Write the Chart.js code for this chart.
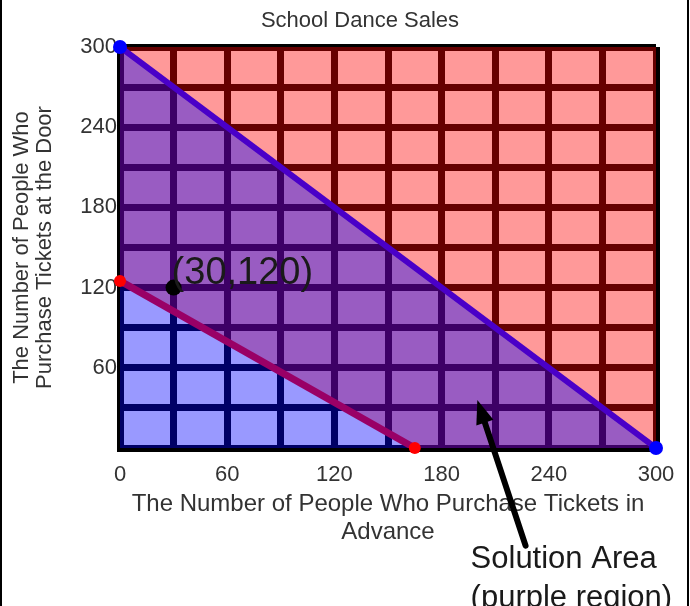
<!DOCTYPE html>
<html>
<head>
<meta charset="utf-8">
<title>School Dance Sales</title>
<script src="https://cdn.jsdelivr.net/npm/chart.js@4.4.1/dist/chart.umd.min.js"></script>
<style>
    html, body { margin: 0; padding: 0; background: #ffffff; }
    #wrap { width: 690px; height: 606px; }
</style>
</head>
<body>
<div id="wrap"><canvas id="mainChart" width="690" height="606"></canvas></div>
<script>
// Tick labels shown on the axes (grid every 30)
const xTickLabels = [0, 60, 120, 180, 240, 300];
const yTickLabels = [60, 120, 180, 240, 300];

// Blue boundary: x + y = 300
const doorLineX = [0, 300];
const doorLineY = [300, 0];

// Red boundary
const advanceLineX = [0, 165];
const advanceLineY = [125, 0];

// Marked solution point
const sampleX = [30];
const sampleY = [120];

// Arrow pointing into the solution area (tail, tip)
const arrowX = [227, 200];
const arrowY = [-73, 36];

const FONT = '"Liberation Sans", Arial, sans-serif';

function toPoints(xs, ys) {
    return xs.map((x, i) => ({ x: x, y: ys[i] }));
}

// Title and frame lines at the left and right edge of the picture
const framePlugin = {
    id: 'frame',
    afterDraw(chart) {
        const ctx = chart.ctx;
        ctx.save();
        ctx.fillStyle = '#000';
        ctx.fillRect(0, 0, 2, chart.height);
        ctx.fillRect(chart.width - 3, 0, 2, chart.height);

        ctx.fillStyle = '#333';
        ctx.font = '22px ' + FONT;
        ctx.textAlign = 'center';
        ctx.textBaseline = 'middle';
        ctx.fillText('School Dance Sales', 360, 21);
        ctx.restore();
    }
};

// Point label, arrow and caption
const annotationPlugin = {
    id: 'annotations',
    afterDatasetsDraw(chart) {
        const { ctx, scales: { x, y } } = chart;
        ctx.save();

        const px = x.getPixelForValue(sampleX[0]);
        const py = y.getPixelForValue(sampleY[0]);
        ctx.fillStyle = '#1a1a1a';
        ctx.font = '38px ' + FONT;
        ctx.textAlign = 'left';
        ctx.textBaseline = 'alphabetic';
        ctx.fillText('(' + sampleX[0] + ',' + sampleY[0] + ')', px - 2, py - 4);

        const x0 = x.getPixelForValue(arrowX[0]);
        const y0 = y.getPixelForValue(arrowY[0]);
        const x1 = x.getPixelForValue(arrowX[1]);
        const y1 = y.getPixelForValue(arrowY[1]);
        const ang = Math.atan2(y1 - y0, x1 - x0);
        const head = 24, half = 9;
        const cos = Math.cos(ang), sin = Math.sin(ang);
        ctx.strokeStyle = '#000';
        ctx.fillStyle = '#000';
        ctx.lineWidth = 6;
        ctx.lineCap = 'round';
        ctx.beginPath();
        ctx.moveTo(x0, y0);
        ctx.lineTo(x1 - head * 0.8 * cos, y1 - head * 0.8 * sin);
        ctx.stroke();
        ctx.beginPath();
        ctx.moveTo(x1, y1);
        ctx.lineTo(x1 - head * cos + half * sin, y1 - head * sin - half * cos);
        ctx.lineTo(x1 - head * cos - half * sin, y1 - head * sin + half * cos);
        ctx.closePath();
        ctx.fill();

        ctx.fillStyle = '#1a1a1a';
        ctx.font = '31px ' + FONT;
        ctx.fillText('Solution Area', x0 - 55, y0 + 22);
        ctx.fillText('(purple region)', x0 - 55, y0 + 61);
        ctx.restore();
    }
};

document.addEventListener('DOMContentLoaded', function() {
    createChart();
});

function createChart() {
    const ctx = document.getElementById('mainChart').getContext('2d');

    const datasets = [
        {
            // red shading above the red boundary
            data: toPoints([...advanceLineX, 300], [...advanceLineY, 0]),
            showLine: true,
            borderWidth: 0,
            borderColor: 'rgba(0,0,0,0)',
            pointRadius: 0,
            fill: 'end',
            backgroundColor: 'rgba(255, 0, 0, 0.4)',
            order: 6
        },
        {
            data: toPoints(advanceLineX, advanceLineY),
            showLine: true,
            borderColor: '#ff0000',
            borderWidth: 7,
            pointRadius: 0,
            fill: false,
            order: 5
        },
        {
            // blue shading below the blue boundary
            data: toPoints(doorLineX, doorLineY),
            showLine: true,
            borderWidth: 0,
            borderColor: 'rgba(0,0,0,0)',
            pointRadius: 0,
            fill: 'origin',
            backgroundColor: 'rgba(0, 0, 255, 0.4)',
            order: 4
        },
        {
            data: toPoints(doorLineX, doorLineY),
            showLine: true,
            borderColor: '#4a00c8',
            borderWidth: 6,
            pointRadius: 0,
            fill: false,
            order: 3
        },
        {
            data: toPoints(advanceLineX, advanceLineY),
            showLine: false,
            pointRadius: 6,
            pointBackgroundColor: '#ff0000',
            pointBorderWidth: 0,
            clip: false,
            order: 2
        },
        {
            data: toPoints(doorLineX, doorLineY),
            showLine: false,
            pointRadius: 7,
            pointBackgroundColor: '#0000ff',
            pointBorderWidth: 0,
            clip: false,
            order: 2
        },
        {
            data: toPoints(sampleX, sampleY),
            showLine: false,
            pointRadius: 8,
            pointBackgroundColor: '#000000',
            pointBorderWidth: 0,
            clip: false,
            order: 1
        }
    ];

    new Chart(ctx, {
        type: 'scatter',
        data: { datasets: datasets },
        plugins: [annotationPlugin, framePlugin],
        options: {
            responsive: false,
            animation: false,
            layout: { padding: { left: 0, right: 34, top: 47, bottom: 0 } },
            plugins: {
                legend: { display: false },
                tooltip: { enabled: false },
                title: { display: false }
            },
            scales: {
                x: {
                    type: 'linear',
                    position: 'bottom',
                    min: 0,
                    max: 300,
                    afterFit: function(scale) { scale.height = 158; },
                    ticks: {
                        stepSize: 30,
                        autoSkip: false,
                        maxRotation: 0,
                        padding: 14,
                        color: '#333',
                        font: { family: FONT, size: 22 },
                        callback: function(value) {
                            return xTickLabels.includes(value) ? String(value) : '';
                        }
                    },
                    grid: { color: '#000', lineWidth: 7, drawTicks: false },
                    border: { display: true, color: '#000', width: 7 },
                    title: {
                        display: true,
                        text: ['The Number of People Who Purchase Tickets in', 'Advance'],
                        color: '#333',
                        font: { family: FONT, size: 24, lineHeight: '28px' },
                        padding: { top: 0, bottom: 60 }
                    }
                },
                y: {
                    type: 'linear',
                    min: 0,
                    max: 300,
                    afterFit: function(scale) { scale.width = 120; },
                    ticks: {
                        stepSize: 30,
                        autoSkip: false,
                        padding: 3,
                        color: '#333',
                        font: { family: FONT, size: 22 },
                        callback: function(value) {
                            return yTickLabels.includes(value) ? String(value) : '';
                        }
                    },
                    grid: { color: '#000', lineWidth: 7, drawTicks: false },
                    border: { display: true, color: '#000', width: 7 },
                    title: {
                        display: true,
                        text: ['The Number of People Who', 'Purchase Tickets at the Door'],
                        color: '#333',
                        font: { family: FONT, size: 22, lineHeight: '23px' },
                        padding: { top: 10, bottom: 0 }
                    }
                }
            }
        }
    });
}
</script>
</body>
</html>
